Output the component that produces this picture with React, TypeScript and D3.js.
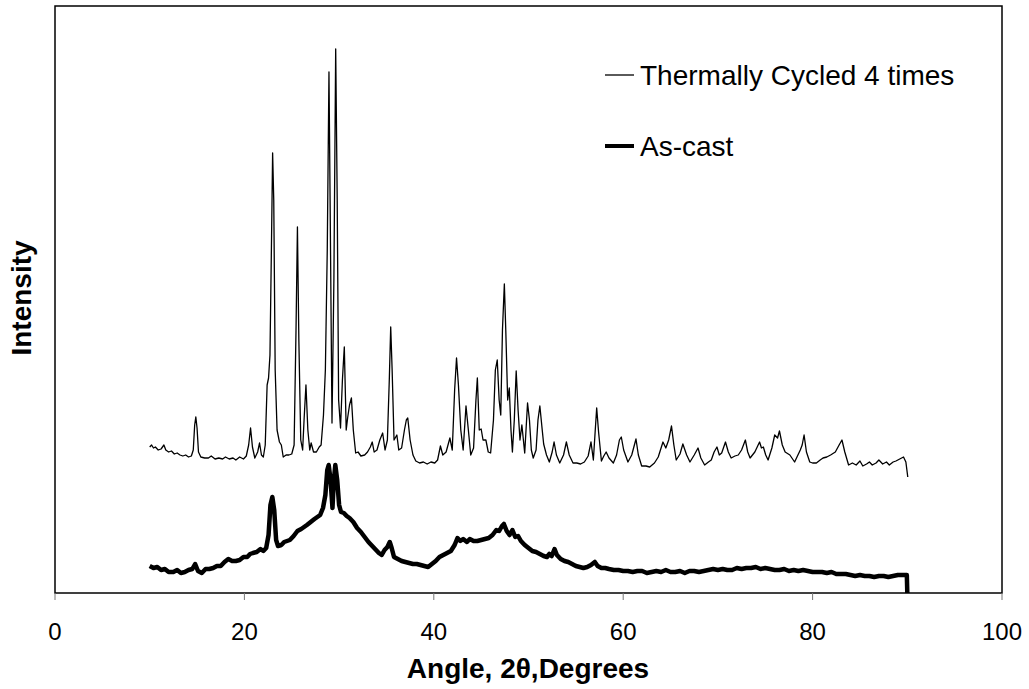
import React from "react";
import * as d3 from "d3";

// X-ray diffraction patterns: [2θ (degrees), intensity (a.u.)]
const cycledData: [number, number][] = [
  [10.0, 146], [10.2, 148], [10.4, 145], [10.6, 146], [10.9, 143], [11.2, 144], [11.5, 148], [11.7, 143],
  [12.0, 141], [12.3, 142], [12.6, 139], [12.9, 140], [13.2, 138], [13.5, 137], [13.8, 138], [14.1, 136],
  [14.4, 137], [14.6, 143], [14.75, 168], [14.87, 176], [15.0, 165], [15.15, 141], [15.4, 136], [15.8, 135],
  [16.2, 135], [16.5, 137], [16.9, 134], [17.3, 135], [17.7, 134], [18.0, 136], [18.4, 134], [18.8, 135],
  [19.1, 133], [19.5, 136], [19.9, 134], [20.2, 137], [20.45, 148], [20.65, 165], [20.85, 146], [21.1, 135],
  [21.4, 141], [21.6, 150], [21.8, 138], [22.0, 136], [22.2, 148], [22.4, 208], [22.55, 215], [22.7, 238],
  [22.85, 343], [22.98, 440], [23.1, 393], [23.25, 223], [23.45, 163], [23.7, 151], [23.9, 148], [24.1, 136],
  [24.4, 138], [24.7, 138], [25.0, 139], [25.25, 148], [25.45, 263], [25.6, 366], [25.75, 253], [25.95, 153],
  [26.15, 143], [26.3, 173], [26.5, 208], [26.7, 163], [26.9, 143], [27.05, 150], [27.3, 141], [27.6, 141],
  [27.9, 146], [28.1, 148], [28.35, 178], [28.55, 223], [28.75, 343], [28.93, 521], [29.05, 393], [29.25, 170],
  [29.45, 313], [29.64, 544], [29.8, 393], [29.95, 193], [30.15, 165], [30.35, 213], [30.55, 246], [30.75, 163],
  [30.9, 175], [31.1, 188], [31.3, 195], [31.5, 163], [31.75, 140], [32.0, 141], [32.3, 137], [32.7, 138],
  [33.0, 141], [33.3, 146], [33.5, 151], [33.7, 141], [34.0, 143], [34.3, 153], [34.6, 160], [34.85, 143],
  [35.1, 153], [35.3, 213], [35.45, 266], [35.6, 223], [35.8, 153], [36.1, 158], [36.3, 143], [36.6, 145],
  [36.9, 163], [37.1, 173], [37.25, 175], [37.5, 153], [37.8, 138], [38.1, 132], [38.5, 130], [38.9, 131],
  [39.3, 129], [39.7, 131], [40.1, 130], [40.4, 133], [40.7, 147], [40.95, 138], [41.3, 141], [41.7, 155],
  [41.95, 143], [42.2, 203], [42.4, 235], [42.6, 208], [42.85, 163], [43.1, 143], [43.4, 187], [43.65, 163],
  [43.9, 138], [44.2, 145], [44.45, 193], [44.6, 215], [44.8, 163], [45.0, 164], [45.2, 153], [45.5, 153],
  [45.75, 141], [46.0, 140], [46.3, 173], [46.5, 223], [46.7, 233], [46.9, 193], [47.07, 178], [47.25, 263],
  [47.45, 309], [47.6, 263], [47.8, 193], [47.97, 205], [48.15, 163], [48.3, 141], [48.5, 173], [48.7, 222],
  [48.9, 183], [49.1, 153], [49.3, 168], [49.6, 140], [49.9, 190], [50.1, 173], [50.3, 143], [50.5, 135],
  [50.8, 143], [51.0, 173], [51.2, 187], [51.45, 163], [51.6, 149], [51.9, 138], [52.2, 131], [52.5, 141],
  [52.7, 151], [52.95, 138], [53.3, 130], [53.7, 138], [54.0, 151], [54.3, 138], [54.7, 130], [55.1, 130],
  [55.5, 129], [55.9, 131], [56.3, 137], [56.6, 151], [56.85, 133], [57.05, 163], [57.2, 185], [57.4, 161],
  [57.7, 132], [57.95, 137], [58.2, 141], [58.5, 135], [58.96, 130], [59.3, 138], [59.6, 153], [59.8, 156],
  [60.05, 143], [60.5, 131], [60.9, 138], [61.35, 154], [61.6, 138], [61.95, 127], [62.4, 127], [62.8, 126],
  [63.3, 130], [63.7, 136], [64.0, 145], [64.2, 151], [64.5, 145], [64.8, 153], [65.1, 167], [65.35, 148],
  [65.6, 133], [66.0, 139], [66.3, 149], [66.7, 138], [67.05, 131], [67.5, 138], [67.9, 145], [68.2, 135],
  [68.6, 128], [69.0, 131], [69.3, 133], [69.6, 141], [69.9, 146], [70.15, 138], [70.4, 140], [70.8, 151],
  [71.1, 141], [71.4, 135], [71.8, 137], [72.15, 138], [72.5, 143], [72.9, 153], [73.15, 141], [73.4, 135],
  [73.9, 141], [74.2, 147], [74.4, 151], [74.6, 145], [74.8, 146], [75.05, 138], [75.3, 133], [75.7, 145],
  [76.0, 158], [76.3, 155], [76.5, 162], [76.8, 148], [77.1, 141], [77.6, 138], [78.1, 131], [78.4, 137],
  [78.7, 143], [78.9, 148], [79.1, 158], [79.35, 141], [79.7, 131], [80.0, 130], [80.4, 130], [80.8, 133],
  [81.1, 135], [81.5, 136], [81.9, 138], [82.4, 141], [82.8, 148], [83.1, 153], [83.4, 141], [83.8, 128],
  [84.2, 130], [84.6, 128], [85.0, 132], [85.3, 127], [85.7, 129], [86.0, 131], [86.3, 128], [86.7, 130],
  [87.0, 133], [87.4, 129], [87.8, 131], [88.1, 128], [88.5, 131], [88.8, 132], [89.2, 134], [89.6, 136],
  [89.85, 131], [90.05, 116],
];

const asCastData: [number, number][] = [
  [10.0, 27], [10.4, 25], [10.8, 26], [11.2, 23], [11.6, 24], [12.0, 21], [12.5, 21], [12.9, 23],
  [13.3, 20], [13.7, 21], [14.1, 23], [14.5, 24], [14.8, 29], [15.1, 22], [15.5, 20], [15.9, 24],
  [16.3, 24], [16.7, 25], [17.1, 27], [17.5, 27], [17.9, 31], [18.3, 34], [18.7, 32], [19.1, 32],
  [19.5, 33], [19.9, 36], [20.3, 36], [20.6, 39], [20.9, 40], [21.3, 41], [21.7, 44], [22.0, 42],
  [22.3, 45], [22.55, 58], [22.75, 88], [22.95, 96], [23.15, 83], [23.35, 53], [23.55, 47], [23.9, 48],
  [24.2, 51], [24.5, 52], [24.8, 53], [25.2, 57], [25.6, 62], [26.0, 64], [26.3, 66], [26.6, 68],
  [27.0, 71], [27.4, 74], [27.7, 76], [28.0, 78], [28.3, 85], [28.55, 98], [28.75, 123], [28.9, 128],
  [29.1, 113], [29.3, 85], [29.45, 113], [29.6, 128], [29.8, 113], [30.0, 88], [30.2, 81], [30.5, 80],
  [30.8, 77], [31.1, 75], [31.5, 71], [31.9, 65], [32.3, 61], [32.7, 56], [33.1, 51], [33.5, 47],
  [33.9, 43], [34.2, 40], [34.5, 38], [34.8, 43], [35.1, 46], [35.35, 51], [35.55, 45], [35.8, 36],
  [36.2, 34], [36.6, 32], [37.0, 31], [37.4, 30], [37.8, 29], [38.2, 29], [38.6, 28], [39.0, 27],
  [39.4, 26], [39.8, 29], [40.2, 32], [40.6, 36], [41.0, 38], [41.4, 40], [41.8, 42], [42.2, 48],
  [42.5, 55], [42.8, 52], [43.1, 54], [43.5, 51], [43.8, 54], [44.2, 52], [44.6, 52], [45.0, 53],
  [45.4, 54], [45.8, 55], [46.2, 58], [46.6, 63], [46.9, 62], [47.2, 67], [47.4, 69], [47.7, 62],
  [48.0, 58], [48.3, 63], [48.6, 56], [48.9, 57], [49.2, 52], [49.6, 48], [50.0, 45], [50.4, 42],
  [50.8, 41], [51.2, 39], [51.6, 37], [51.95, 36], [52.2, 39], [52.45, 37], [52.75, 44], [53.0, 38],
  [53.4, 34], [53.8, 32], [54.2, 31], [54.6, 29], [55.0, 27], [55.4, 26], [55.8, 25], [56.2, 26],
  [56.6, 28], [57.0, 31], [57.3, 27], [57.7, 25], [58.1, 25], [58.5, 24], [59.0, 23], [59.5, 23],
  [60.0, 22], [60.5, 22], [61.0, 21], [61.5, 22], [62.0, 22], [62.5, 20], [63.0, 21], [63.5, 22],
  [64.0, 21], [64.5, 23], [65.0, 21], [65.5, 21], [66.0, 22], [66.5, 20], [67.0, 22], [67.5, 22],
  [68.0, 21], [68.5, 22], [69.0, 23], [69.5, 24], [70.0, 23], [70.5, 24], [71.0, 23], [71.5, 23],
  [72.0, 25], [72.5, 24], [73.0, 25], [73.5, 25], [74.0, 26], [74.5, 24], [75.0, 25], [75.5, 24],
  [76.0, 23], [76.5, 23], [77.0, 24], [77.5, 22], [78.0, 23], [78.5, 22], [79.0, 23], [79.5, 22],
  [80.0, 21], [80.5, 21], [81.0, 21], [81.5, 20], [82.0, 21], [82.5, 19], [83.0, 19], [83.5, 19],
  [84.0, 18], [84.5, 17], [85.0, 18], [85.5, 17], [86.0, 17], [86.5, 16], [87.0, 17], [87.5, 17],
  [88.0, 16], [88.5, 17], [89.0, 18], [89.5, 18], [89.95, 18], [90.0, 0],
];

const xTicks = [0, 20, 40, 60, 80, 100];
const seriesNames = ["Thermally Cycled 4 times", "As-cast"];
const xTitle = "Angle, 2θ,Degrees";
const yTitle = "Intensity";

const W = 1029;
const H = 689;
const M = { left: 55, top: 6, right: 1002, bottom: 593 };
const FONT = "'Liberation Sans', Arial, Helvetica, sans-serif";

export default function App() {
  const x = d3.scaleLinear().domain([0, 100]).range([M.left, M.right]);
  const y = d3.scaleLinear().domain([0, 587]).range([M.bottom, M.top]);
  const line = d3
    .line<[number, number]>()
    .x((d) => x(d[0]))
    .y((d) => y(d[1]));

  return (
    <svg
      width={W}
      height={H}
      style={{ position: "absolute", left: 0, top: 0, background: "#fff" }}
      fontFamily={FONT}
    >
      <rect x={0} y={0} width={W} height={H} fill="#fff" />
      {/* data */}
      <path d={line(asCastData) || ""} fill="none" stroke="#000" strokeWidth={4.5} strokeLinejoin="round" />
      <path d={line(cycledData) || ""} fill="none" stroke="#000" strokeWidth={1.3} strokeLinejoin="round" />

      {/* frame */}
      <rect
        x={M.left}
        y={M.top}
        width={M.right - M.left}
        height={M.bottom - M.top}
        fill="none"
        stroke="#000"
        strokeWidth={1.5}
      />

      {/* x axis ticks */}
      {xTicks.map((t) => (
        <g key={t}>
          <line x1={x(t)} x2={x(t)} y1={M.bottom} y2={M.bottom + 7} stroke="#777" strokeWidth={1} />
          <text x={x(t)} y={640} textAnchor="middle" fontSize={24} fill="#000">
            {t}
          </text>
        </g>
      ))}

      {/* axis titles */}
      <text x={528} y={678} textAnchor="middle" fontSize={28} fontWeight="bold" fill="#000">
        {xTitle}
      </text>
      <text
        transform={`translate(31, 298) rotate(-90)`}
        textAnchor="middle"
        fontSize={28}
        fontWeight="bold"
        fill="#000"
      >
        {yTitle}
      </text>

      {/* legend */}
      <line x1={605} x2={634} y1={75} y2={75} stroke="#000" strokeWidth={1.3} />
      <text x={640} y={85} fontSize={28} fill="#000">
        {seriesNames[0]}
      </text>
      <line x1={605} x2={634} y1={146} y2={146} stroke="#000" strokeWidth={4} />
      <text x={640} y={156} fontSize={28} fill="#000">
        {seriesNames[1]}
      </text>
    </svg>
  );
}
